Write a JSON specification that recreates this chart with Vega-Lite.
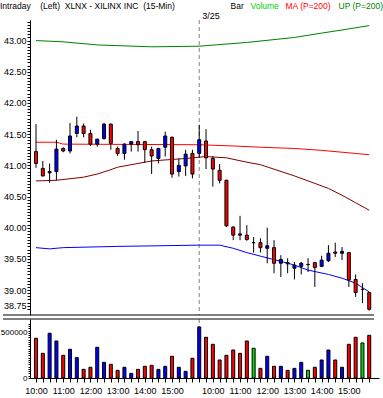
{
  "$schema": "https://vega.github.io/schema/vega-lite/v6.json",
  "background": "white",
  "padding": {"left": 0, "top": 2, "right": 1, "bottom": 0},
  "config": {
    "view": {"stroke": null},
    "font": "Liberation Sans",
    "axis": {"grid": false, "domainColor": "black", "tickColor": "black", "labelColor": "black", "labelFontSize": 9}
  },
  "datasets": {
    "marks": [{"i": 24, "label": "3/25"}],
    "bars": [
      {"i": 0, "d": "3/24", "t": "10:00", "o": 41.22, "h": 41.66, "l": 40.96, "c": 41.03, "v": 441000, "dir": "down"},
      {"i": 1, "d": "3/24", "t": "10:15", "o": 40.95, "h": 41.07, "l": 40.82, "c": 40.83, "v": 274000, "dir": "down"},
      {"i": 2, "d": "3/24", "t": "10:30", "o": 40.88, "h": 41.03, "l": 40.72, "c": 40.9, "v": 497000, "dir": "up"},
      {"i": 3, "d": "3/24", "t": "10:45", "o": 40.9, "h": 41.41, "l": 40.76, "c": 41.26, "v": 411000, "dir": "up"},
      {"i": 4, "d": "3/24", "t": "11:00", "o": 41.27, "h": 41.29, "l": 41.21, "c": 41.23, "v": 252000, "dir": "down"},
      {"i": 5, "d": "3/24", "t": "11:15", "o": 41.23, "h": 41.68, "l": 41.19, "c": 41.47, "v": 319000, "dir": "up"},
      {"i": 6, "d": "3/24", "t": "11:30", "o": 41.51, "h": 41.78, "l": 41.45, "c": 41.63, "v": 226000, "dir": "up"},
      {"i": 7, "d": "3/24", "t": "11:45", "o": 41.63, "h": 41.67, "l": 41.45, "c": 41.51, "v": 96000, "dir": "down"},
      {"i": 8, "d": "3/24", "t": "12:00", "o": 41.51, "h": 41.57, "l": 41.31, "c": 41.34, "v": 119000, "dir": "down"},
      {"i": 9, "d": "3/24", "t": "12:15", "o": 41.34, "h": 41.42, "l": 41.3, "c": 41.42, "v": 341000, "dir": "up"},
      {"i": 10, "d": "3/24", "t": "12:30", "o": 41.43, "h": 41.68, "l": 41.41, "c": 41.66, "v": 174000, "dir": "up"},
      {"i": 11, "d": "3/24", "t": "12:45", "o": 41.66, "h": 41.67, "l": 41.25, "c": 41.35, "v": 152000, "dir": "down"},
      {"i": 12, "d": "3/24", "t": "13:00", "o": 41.27, "h": 41.3, "l": 41.15, "c": 41.19, "v": 85000, "dir": "down"},
      {"i": 13, "d": "3/24", "t": "13:15", "o": 41.19, "h": 41.35, "l": 41.09, "c": 41.34, "v": 119000, "dir": "up"},
      {"i": 14, "d": "3/24", "t": "13:30", "o": 41.34, "h": 41.38, "l": 41.22, "c": 41.38, "v": 52000, "dir": "up"},
      {"i": 15, "d": "3/24", "t": "13:45", "o": 41.38, "h": 41.55, "l": 41.22, "c": 41.33, "v": 96000, "dir": "down"},
      {"i": 16, "d": "3/24", "t": "14:00", "o": 41.38, "h": 41.39, "l": 41.04, "c": 41.25, "v": 130000, "dir": "down"},
      {"i": 17, "d": "3/24", "t": "14:15", "o": 41.25, "h": 41.3, "l": 40.86, "c": 41.15, "v": 141000, "dir": "down"},
      {"i": 18, "d": "3/24", "t": "14:30", "o": 41.11, "h": 41.28, "l": 41.03, "c": 41.27, "v": 96000, "dir": "up"},
      {"i": 19, "d": "3/24", "t": "14:45", "o": 41.29, "h": 41.54, "l": 41.14, "c": 41.47, "v": 130000, "dir": "up"},
      {"i": 20, "d": "3/24", "t": "15:00", "o": 41.45, "h": 41.46, "l": 40.8, "c": 40.86, "v": 241000, "dir": "down"},
      {"i": 21, "d": "3/24", "t": "15:15", "o": 40.9, "h": 41.11, "l": 40.82, "c": 41.0, "v": 119000, "dir": "up"},
      {"i": 22, "d": "3/24", "t": "15:30", "o": 40.99, "h": 41.25, "l": 40.83, "c": 41.18, "v": 74000, "dir": "up"},
      {"i": 23, "d": "3/24", "t": "15:45", "o": 41.19, "h": 41.25, "l": 40.79, "c": 40.86, "v": 219000, "dir": "down"},
      {"i": 24, "d": "3/25", "t": "9:30", "o": 41.19, "h": 41.65, "l": 41.12, "c": 41.41, "v": 567000, "dir": "up"},
      {"i": 25, "d": "3/25", "t": "9:45", "o": 41.39, "h": 41.58, "l": 40.94, "c": 41.12, "v": 452000, "dir": "down"},
      {"i": 26, "d": "3/25", "t": "10:00", "o": 41.11, "h": 41.15, "l": 40.66, "c": 40.94, "v": 374000, "dir": "down"},
      {"i": 27, "d": "3/25", "t": "10:15", "o": 40.92, "h": 41.02, "l": 40.71, "c": 40.76, "v": 200000, "dir": "down"},
      {"i": 28, "d": "3/25", "t": "10:30", "o": 40.76, "h": 40.77, "l": 40.01, "c": 40.03, "v": 252000, "dir": "down"},
      {"i": 29, "d": "3/25", "t": "10:45", "o": 40.01, "h": 40.02, "l": 39.8, "c": 39.88, "v": 311000, "dir": "down"},
      {"i": 30, "d": "3/25", "t": "11:00", "o": 39.9, "h": 40.19, "l": 39.8, "c": 39.88, "v": 274000, "dir": "down"},
      {"i": 31, "d": "3/25", "t": "11:15", "o": 39.88, "h": 40.04, "l": 39.79, "c": 39.81, "v": 411000, "dir": "down"},
      {"i": 32, "d": "3/25", "t": "11:30", "o": 39.76, "h": 39.85, "l": 39.6, "c": 39.76, "v": 330000, "dir": "flat"},
      {"i": 33, "d": "3/25", "t": "11:45", "o": 39.76, "h": 39.83, "l": 39.6, "c": 39.68, "v": 107000, "dir": "down"},
      {"i": 34, "d": "3/25", "t": "12:00", "o": 39.67, "h": 40.0, "l": 39.43, "c": 39.71, "v": 241000, "dir": "up"},
      {"i": 35, "d": "3/25", "t": "12:15", "o": 39.68, "h": 39.8, "l": 39.27, "c": 39.43, "v": 130000, "dir": "down"},
      {"i": 36, "d": "3/25", "t": "12:30", "o": 39.43, "h": 39.56, "l": 39.21, "c": 39.49, "v": 130000, "dir": "up"},
      {"i": 37, "d": "3/25", "t": "12:45", "o": 39.44, "h": 39.51, "l": 39.27, "c": 39.42, "v": 85000, "dir": "down"},
      {"i": 38, "d": "3/25", "t": "13:00", "o": 39.35, "h": 39.45, "l": 39.17, "c": 39.4, "v": 107000, "dir": "up"},
      {"i": 39, "d": "3/25", "t": "13:15", "o": 39.38, "h": 39.45, "l": 39.25, "c": 39.43, "v": 174000, "dir": "up"},
      {"i": 40, "d": "3/25", "t": "13:30", "o": 39.41, "h": 39.51, "l": 39.29, "c": 39.41, "v": 85000, "dir": "flat"},
      {"i": 41, "d": "3/25", "t": "13:45", "o": 39.44, "h": 39.45, "l": 39.05, "c": 39.36, "v": 119000, "dir": "down"},
      {"i": 42, "d": "3/25", "t": "14:00", "o": 39.38, "h": 39.55, "l": 39.37, "c": 39.48, "v": 200000, "dir": "up"},
      {"i": 43, "d": "3/25", "t": "14:15", "o": 39.47, "h": 39.72, "l": 39.45, "c": 39.59, "v": 311000, "dir": "up"},
      {"i": 44, "d": "3/25", "t": "14:30", "o": 39.61, "h": 39.76, "l": 39.53, "c": 39.59, "v": 200000, "dir": "down"},
      {"i": 45, "d": "3/25", "t": "14:45", "o": 39.59, "h": 39.69, "l": 39.48, "c": 39.62, "v": 119000, "dir": "up"},
      {"i": 46, "d": "3/25", "t": "15:00", "o": 39.6, "h": 39.61, "l": 39.05, "c": 39.16, "v": 374000, "dir": "down"},
      {"i": 47, "d": "3/25", "t": "15:15", "o": 39.17, "h": 39.25, "l": 38.89, "c": 38.96, "v": 452000, "dir": "down"},
      {"i": 48, "d": "3/25", "t": "15:30", "o": 39.01, "h": 39.11, "l": 38.79, "c": 39.01, "v": 389000, "dir": "flat"},
      {"i": 49, "d": "3/25", "t": "15:45", "o": 38.96, "h": 38.96, "l": 38.67, "c": 38.69, "v": 474000, "dir": "down"}
    ],
    "lines": [
      {"s": "UP (P=200)", "i": 0, "v": 43.0}, {"s": "UP (P=200)", "i": 4, "v": 42.98}, {"s": "UP (P=200)", "i": 9, "v": 42.93},
      {"s": "UP (P=200)", "i": 17, "v": 42.9}, {"s": "UP (P=200)", "i": 24, "v": 42.91}, {"s": "UP (P=200)", "i": 31, "v": 42.97},
      {"s": "UP (P=200)", "i": 38, "v": 43.05}, {"s": "UP (P=200)", "i": 42, "v": 43.12}, {"s": "UP (P=200)", "i": 45, "v": 43.17},
      {"s": "UP (P=200)", "i": 49, "v": 43.24},
      {"s": "MA (P=200)", "i": 0, "v": 41.37}, {"s": "MA (P=200)", "i": 3, "v": 41.37}, {"s": "MA (P=200)", "i": 4, "v": 41.34},
      {"s": "MA (P=200)", "i": 24, "v": 41.33}, {"s": "MA (P=200)", "i": 29, "v": 41.31}, {"s": "MA (P=200)", "i": 33, "v": 41.29},
      {"s": "MA (P=200)", "i": 38, "v": 41.27}, {"s": "MA (P=200)", "i": 42, "v": 41.24}, {"s": "MA (P=200)", "i": 47, "v": 41.19},
      {"s": "MA (P=200)", "i": 49, "v": 41.17},
      {"s": "MA 2", "i": 0, "v": 40.75}, {"s": "MA 2", "i": 3, "v": 40.76}, {"s": "MA 2", "i": 7, "v": 40.81},
      {"s": "MA 2", "i": 9, "v": 40.86}, {"s": "MA 2", "i": 11, "v": 40.93}, {"s": "MA 2", "i": 12, "v": 40.97},
      {"s": "MA 2", "i": 17, "v": 41.07}, {"s": "MA 2", "i": 22, "v": 41.11}, {"s": "MA 2", "i": 25, "v": 41.14},
      {"s": "MA 2", "i": 28, "v": 41.12}, {"s": "MA 2", "i": 31, "v": 41.05}, {"s": "MA 2", "i": 33, "v": 41.01},
      {"s": "MA 2", "i": 38, "v": 40.83}, {"s": "MA 2", "i": 43, "v": 40.63}, {"s": "MA 2", "i": 45, "v": 40.52},
      {"s": "MA 2", "i": 47, "v": 40.4}, {"s": "MA 2", "i": 49, "v": 40.28},
      {"s": "DN (P=200)", "i": 0, "v": 39.68}, {"s": "DN (P=200)", "i": 2, "v": 39.66}, {"s": "DN (P=200)", "i": 4, "v": 39.68},
      {"s": "DN (P=200)", "i": 12, "v": 39.7}, {"s": "DN (P=200)", "i": 24, "v": 39.72}, {"s": "DN (P=200)", "i": 27, "v": 39.72},
      {"s": "DN (P=200)", "i": 29, "v": 39.67}, {"s": "DN (P=200)", "i": 31, "v": 39.6}, {"s": "DN (P=200)", "i": 36, "v": 39.46},
      {"s": "DN (P=200)", "i": 38, "v": 39.4}, {"s": "DN (P=200)", "i": 40, "v": 39.32}, {"s": "DN (P=200)", "i": 43, "v": 39.25},
      {"s": "DN (P=200)", "i": 45, "v": 39.19}, {"s": "DN (P=200)", "i": 47, "v": 39.11}, {"s": "DN (P=200)", "i": 49, "v": 38.97}
    ]
  },
  "spacing": 2,
  "vconcat": [
    {
      "width": 349,
      "height": 295,
      "layer": [
        {
          "data": {"name": "marks"},
          "mark": {"type": "rule", "color": "#808080", "strokeDash": [4, 3], "strokeWidth": 1},
          "encoding": {
            "x": {"field": "i", "type": "quantitative", "scale": {"domain": [-0.15, 49.7], "nice": false, "zero": false}, "axis": null}
          }
        },
        {
          "data": {"name": "marks"},
          "mark": {"type": "text", "align": "left", "baseline": "alphabetic", "dx": 3, "dy": -1.5, "fontSize": 9, "color": "black"},
          "encoding": {
            "x": {"field": "i", "type": "quantitative", "scale": {"domain": [-0.15, 49.7], "nice": false, "zero": false}, "axis": null},
            "y": {"datum": 43.33, "type": "quantitative", "scale": {"domain": [38.6, 43.33], "nice": false, "zero": false}, "axis": {"title": null, "tickCount": 200, "labelOverlap": false}},
            "text": {"field": "label"}
          }
        },
        {
          "data": {"name": "marks"},
          "mark": {"type": "rule", "color": "black", "strokeWidth": 1},
          "encoding": {
            "x": {"datum": -4.86, "type": "quantitative", "scale": {"domain": [-0.15, 49.7], "nice": false, "zero": false}, "axis": null},
            "x2": {"datum": 49.7},
            "y": {"datum": 38.6, "type": "quantitative", "scale": {"domain": [38.6, 43.33], "nice": false, "zero": false}, "axis": {"title": null, "tickCount": 200, "labelOverlap": false}}
          }
        },
        {
          "data": {"name": "lines"},
          "mark": {"type": "line", "strokeWidth": 1},
          "encoding": {
            "x": {"field": "i", "type": "quantitative", "scale": {"domain": [-0.15, 49.7], "nice": false, "zero": false}, "axis": null},
            "y": {
              "field": "v", "type": "quantitative",
              "scale": {"domain": [38.6, 43.33], "nice": false, "zero": false},
              "axis": {
                "title": null, "tickSize": 3, "labelPadding": 1, "tickCount": 200, "labelOverlap": false, "labelFlush": false, "labelBound": false,
                "values": [38.7,38.75,38.8,38.85,38.9,38.95,39,39.05,39.1,39.15,39.2,39.25,39.3,39.35,39.4,39.45,39.5,39.55,39.6,39.65,39.7,39.75,39.8,39.85,39.9,39.95,40,40.05,40.1,40.15,40.2,40.25,40.3,40.35,40.4,40.45,40.5,40.55,40.6,40.65,40.7,40.75,40.8,40.85,40.9,40.95,41,41.05,41.1,41.15,41.2,41.25,41.3,41.35,41.4,41.45,41.5,41.55,41.6,41.65,41.7,41.75,41.8,41.85,41.9,41.95,42,42.05,42.1,42.15,42.2,42.25,42.3,42.35,42.4,42.45,42.5,42.55,42.6,42.65,42.7,42.75,42.8,42.85,42.9,42.95,43,43.05,43.1,43.15,43.2,43.25,43.3],
                "labelExpr": "indexof([38.75,39,39.5,40,40.5,41,41.5,42,42.5,43], datum.value) >= 0 ? format(datum.value, '.2f') : ''"
              }
            },
            "color": {
              "field": "s", "type": "nominal",
              "scale": {
                "domain": ["Bar", "Volume", "MA (P=200)", "UP (P=200)", "DN (P=200)", "MA 2"],
                "range": ["#000000", "#00d000", "#ff0000", "#008000", "#0000ff", "#800000"]
              },
              "legend": {
                "orient": "none", "legendX": -30, "legendY": -18, "direction": "horizontal",
                "values": ["Bar", "Volume", "MA (P=200)", "UP (P=200)"],
                "title": "Intraday\u00a0\u00a0\u00a0\u00a0(Left)\u00a0\u00a0XLNX - XILINX INC\u00a0\u00a0(15-Min)",
                "titleOrient": "left", "titleFontSize": 8.5, "titleFontWeight": "normal", "titleColor": "black", "titlePadding": 47, "titleLimit": 400,
                "labelFontSize": 8.5, "labelLimit": 200, "labelOffset": 0, "symbolSize": 0, "symbolStrokeWidth": 0, "symbolOpacity": 0,
                "gridAlign": "none", "columnPadding": -2,
                "labelColor": {"expr": "datum.label == 'MA (P=200)' ? '#ff0000' : datum.label == 'Bar' ? '#000000' : datum.label == 'Volume' ? '#00d000' : '#008000'"}
              }
            }
          }
        },
        {
          "data": {"name": "bars"},
          "mark": {"type": "rule", "color": "black", "strokeWidth": 1},
          "encoding": {
            "x": {"field": "i", "type": "quantitative", "scale": {"domain": [-0.15, 49.7], "nice": false, "zero": false}, "axis": null},
            "y": {"field": "l", "type": "quantitative", "scale": {"domain": [38.6, 43.33], "nice": false, "zero": false}, "axis": {"title": null, "tickCount": 200, "labelOverlap": false}},
            "y2": {"field": "h"}
          }
        },
        {
          "data": {"name": "bars"},
          "mark": {"type": "bar", "width": 3, "stroke": "black", "strokeWidth": 1},
          "encoding": {
            "x": {"field": "i", "type": "quantitative", "scale": {"domain": [-0.15, 49.7], "nice": false, "zero": false}, "axis": null},
            "y": {"field": "o", "type": "quantitative", "scale": {"domain": [38.6, 43.33], "nice": false, "zero": false}, "axis": {"title": null, "tickCount": 200, "labelOverlap": false}},
            "y2": {"field": "c"},
            "fill": {"field": "dir", "type": "nominal", "scale": {"domain": ["down", "up", "flat"], "range": ["#ff0000", "#0000ff", "#00d800"]}, "legend": null}
          }
        }
      ]
    },
    {
      "width": 349,
      "height": 59,
      "layer": [
        {
          "data": {"name": "marks"},
          "mark": {"type": "rule", "color": "#808080", "strokeDash": [4, 3], "strokeWidth": 1},
          "encoding": {
            "x": {"field": "i", "type": "quantitative", "scale": {"domain": [-0.15, 49.7], "nice": false, "zero": false}, "axis": {"title": null, "tickCount": 200, "labelOverlap": false}}
          }
        },
        {
          "data": {"name": "marks"},
          "mark": {"type": "rule", "color": "black", "strokeWidth": 1},
          "encoding": {
            "x": {"datum": -4.86, "type": "quantitative", "scale": {"domain": [-0.15, 49.7], "nice": false, "zero": false}, "axis": {"title": null, "tickCount": 200, "labelOverlap": false}},
            "x2": {"datum": 49.7},
            "y": {"datum": 655000, "type": "quantitative", "scale": {"domain": [0, 655000], "nice": false}, "axis": {"title": null, "tickCount": 200, "labelOverlap": false}}
          }
        },
        {
          "data": {"name": "bars"},
          "mark": {"type": "bar", "width": 3, "stroke": "black", "strokeWidth": 1},
          "encoding": {
            "x": {
              "field": "i", "type": "quantitative",
              "scale": {"domain": [-0.15, 49.7], "nice": false, "zero": false},
              "axis": {
                "title": null, "tickSize": 4, "labelPadding": 4, "tickCount": 200, "labelOverlap": false, "labelFlush": false, "labelBound": false,
                "values": [0,1,2,3,4,5,6,7,8,9,10,11,12,13,14,15,16,17,18,19,20,21,22,23,24,25,26,27,28,29,30,31,32,33,34,35,36,37,38,39,40,41,42,43,44,45,46,47,48,49],
                "labelExpr": "datum.value == 0 || datum.value == 26 ? '10:00' : datum.value == 4 || datum.value == 30 ? '11:00' : datum.value == 8 || datum.value == 34 ? '12:00' : datum.value == 12 || datum.value == 38 ? '13:00' : datum.value == 16 || datum.value == 42 ? '14:00' : datum.value == 20 || datum.value == 46 ? '15:00' : ''"
              }
            },
            "y": {
              "field": "v", "type": "quantitative",
              "scale": {"domain": [0, 655000], "nice": false},
              "axis": {
                "title": null, "tickSize": 2, "labelPadding": 1, "labelFontSize": 8, "tickCount": 200, "labelOverlap": false, "labelFlush": false, "labelBound": false,
                "values": [0,25000,50000,75000,100000,125000,150000,175000,200000,225000,250000,275000,300000,325000,350000,375000,400000,425000,450000,475000,500000,525000,550000,575000,600000],
                "labelExpr": "datum.value == 0 || datum.value == 500000 ? format(datum.value, 'd') : ''"
              }
            },
            "fill": {"field": "dir", "type": "nominal", "scale": {"domain": ["down", "up", "flat"], "range": ["#ff0000", "#0000ff", "#00d800"]}, "legend": null}
          }
        }
      ]
    }
  ]
}
